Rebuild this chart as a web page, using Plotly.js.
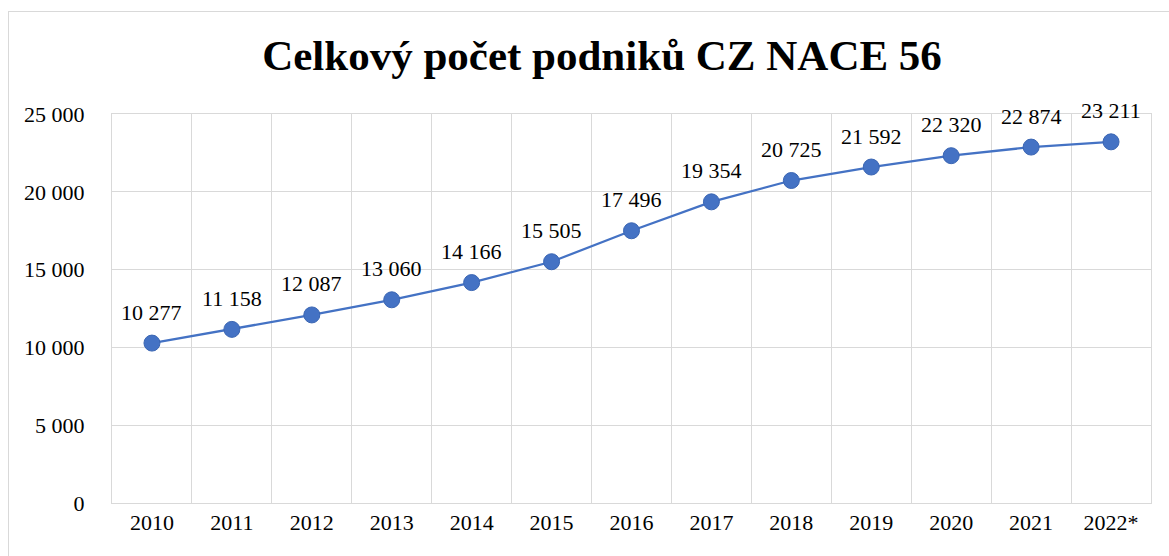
<!DOCTYPE html>
<html>
<head>
<meta charset="utf-8">
<script src="https://cdn.plot.ly/plotly-3.0.1.min.js"></script>
<style>
  html, body { margin: 0; padding: 0; background: #fff; overflow: hidden; }
  #chart { width: 1169px; height: 556px; position: absolute; left: 0; top: 0; }
  #frame { position: absolute; left: 8px; top: 11px; width: 1200px; height: 600px;
           border: 1.5px solid #d9d9d9; pointer-events: none; }
</style>
</head>
<body>
<div id="chart"></div>
<div id="frame"></div>
<script>
const years = ["2010","2011","2012","2013","2014","2015","2016","2017","2018","2019","2020","2021","2022*"];
const counts = [10277, 11158, 12087, 13060, 14166, 15505, 17496, 19354, 20725, 21592, 22320, 22874, 23211];
const yTicks = [0, 5000, 10000, 15000, 20000, 25000];
const titleText = "Celkový počet podniků CZ NACE 56";

function fmt(v) { return String(v).replace(/\B(?=(\d{3})+(?!\d))/g, " "); }

const font = "Liberation Serif, Times New Roman, serif";

const trace = {
  type: "scatter",
  mode: "lines+markers",
  x: years,
  y: counts,
  line: { color: "#4472C4", width: 2.25 },
  marker: { color: "#4472C4", size: 16, line: { color: "#3b66b3", width: 1 } },
  hoverinfo: "skip"
};

// category index positions for annotations (numeric-looking names would be read as indices)
const annotations = years.map((yr, i) => ({
  x: i, y: counts[i], xref: "x", yref: "y",
  text: fmt(counts[i]), showarrow: false, yshift: 31,
  font: { family: font, size: 22, color: "#000" }
}));

const layout = {
  width: 1169, height: 556,
  margin: { l: 112, r: 18, t: 114, b: 53 },
  paper_bgcolor: "#fff", plot_bgcolor: "#fff",
  showlegend: false,
  title: {
    text: "<b>" + titleText + "</b>",
    font: { family: font, size: 43, color: "#000" },
    xref: "container", x: 602 / 1169, xanchor: "center",
    yref: "container", y: 1 - 55 / 556, yanchor: "middle"
  },
  xaxis: {
    type: "category",
    categoryorder: "array", categoryarray: years,
    range: [-0.5, years.length - 0.5],
    tickson: "boundaries",
    tickangle: 0,
    showgrid: true, gridcolor: "#d9d9d9", gridwidth: 1,
    showline: true, linecolor: "#d9d9d9", linewidth: 1, mirror: true,
    ticks: "outside", ticklen: 20, tickcolor: "rgba(0,0,0,0)",
    tickfont: { family: font, size: 22, color: "#000" },
    zeroline: false, fixedrange: true
  },
  yaxis: {
    range: [0, 25000],
    tickvals: yTicks,
    ticktext: yTicks.map(fmt),
    showgrid: true, gridcolor: "#d9d9d9", gridwidth: 1,
    showline: true, linecolor: "#d9d9d9", linewidth: 1, mirror: true,
    ticks: "outside", ticklen: 22, tickcolor: "rgba(0,0,0,0)",
    tickfont: { family: font, size: 22, color: "#000" },
    zeroline: false, fixedrange: true
  },
  annotations: annotations
};

Plotly.newPlot("chart", [trace], layout, { displayModeBar: false, staticPlot: true });
</script>
</body>
</html>
